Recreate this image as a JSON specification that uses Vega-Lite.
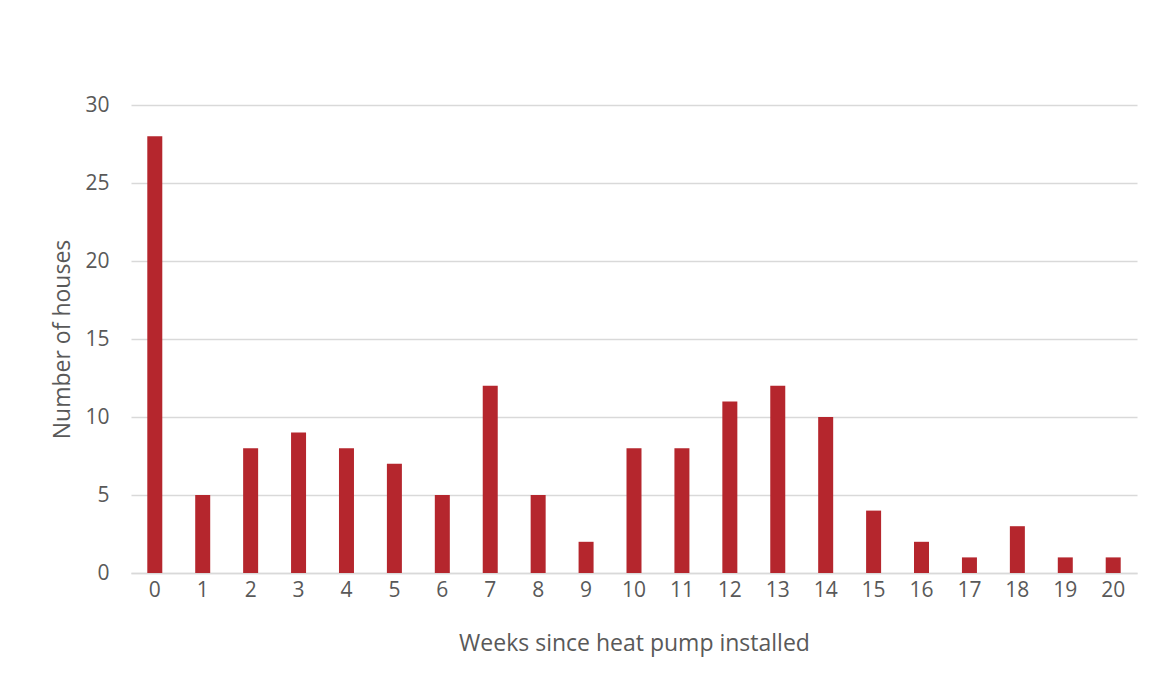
{
  "$schema": "https://vega.github.io/schema/vega-lite/v6.json",
  "width": 1006,
  "height": 468,
  "autosize": {"type": "none"},
  "padding": {"left": 131, "top": 105, "right": 18, "bottom": 112},
  "background": "white",
  "data": {"values": [
    {"week": 0, "houses": 28}, {"week": 1, "houses": 5}, {"week": 2, "houses": 8},
    {"week": 3, "houses": 9}, {"week": 4, "houses": 8}, {"week": 5, "houses": 7},
    {"week": 6, "houses": 5}, {"week": 7, "houses": 12}, {"week": 8, "houses": 5},
    {"week": 9, "houses": 2}, {"week": 10, "houses": 8}, {"week": 11, "houses": 8},
    {"week": 12, "houses": 11}, {"week": 13, "houses": 12}, {"week": 14, "houses": 10},
    {"week": 15, "houses": 4}, {"week": 16, "houses": 2}, {"week": 17, "houses": 1},
    {"week": 18, "houses": 3}, {"week": 19, "houses": 1}, {"week": 20, "houses": 1}
  ]},
  "config": {
    "view": {"stroke": null},
    "font": "Open Sans",
    "axis": {
      "labelFont": "Open Sans",
      "titleFont": "Open Sans",
      "labelColor": "#595959",
      "titleColor": "#595959",
      "labelFontSize": 21,
      "titleFontSize": 23,
      "titleFontWeight": "normal",
      "ticks": false,
      "gridColor": "#D9D9D9",
      "gridWidth": 1.3,
      "domainColor": "#D9D9D9",
      "domainWidth": 1.3
    }
  },
  "mark": {"type": "bar", "color": "#B5262D"},
  "encoding": {
    "x": {
      "field": "week",
      "type": "ordinal",
      "sort": null,
      "scale": {"paddingInner": 0.687, "paddingOuter": 0.34},
      "axis": {
        "title": "Weeks since heat pump installed",
        "labelAngle": 0,
        "labelPadding": 6,
        "titlePadding": 32,
        "grid": false
      }
    },
    "y": {
      "field": "houses",
      "type": "quantitative",
      "scale": {"domain": [0, 30]},
      "axis": {
        "title": "Number of houses",
        "values": [0, 5, 10, 15, 20, 25, 30],
        "domain": false,
        "labelPadding": 22,
        "titlePadding": 10
      }
    }
  }
}
